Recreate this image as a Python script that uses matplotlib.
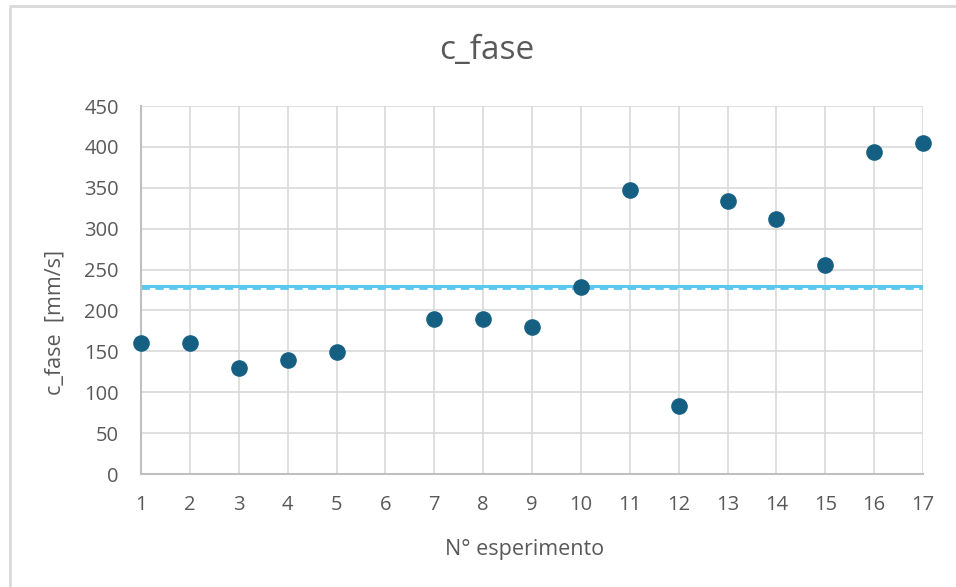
import numpy as np
import matplotlib.pyplot as plt
from matplotlib.lines import Line2D

# dati
esperimento = [1, 2, 3, 4, 5, 7, 8, 9, 10, 11, 12, 13, 14, 15, 16, 17]
c_fase = [160, 160, 130, 140, 149, 190, 190, 180, 229, 347, 83, 334, 312, 256, 394, 405]
x_ticks = list(range(1, 18))
y_ticks = list(range(0, 451, 50))
linea_media = 229.5
linea_tratteggiata = 227

GRIGIO_TESTO = '#595959'
COLORE_PUNTI = '#156082'
COLORE_LINEA = '#5BC8F0'

plt.rcParams['font.family'] = ['Open Sans', 'DejaVu Sans']

fig = plt.figure(figsize=(9.56, 5.87), dpi=100)
ax = fig.add_axes([0.1475, 0.1925, 0.818, 0.6269])

# bordo del riquadro (visibile solo a sinistra e in alto, lo screenshot e' tagliato)
bx, by = 9.5 / 956, 1 - 6 / 587
fig.lines.append(Line2D([bx, bx, 1], [0, by, by], transform=fig.transFigure,
                        color='#D9D9D9', linewidth=2))

ax.axhline(linea_media, color=COLORE_LINEA, linewidth=2.2, zorder=2)
ax.axhline(linea_tratteggiata, color=COLORE_LINEA, linewidth=2.0, linestyle=(0, (3, 2)), zorder=2)

ax.scatter(esperimento, c_fase, s=120, color=COLORE_PUNTI, zorder=3, clip_on=False)

ax.set_xlim(1, 17)
ax.set_ylim(0, 450)
ax.set_xticks(x_ticks)
ax.set_yticks(y_ticks)
ax.grid(True, color='#D9D9D9', linewidth=1.2)
ax.set_axisbelow(True)

for lato in ['top', 'right']:
    ax.spines[lato].set_visible(False)
for lato in ['left', 'bottom']:
    ax.spines[lato].set_color('#BFBFBF')
    ax.spines[lato].set_linewidth(1.5)

ax.tick_params(length=0, labelsize=14.5, colors=GRIGIO_TESTO)
ax.tick_params(axis='x', pad=15)
ax.tick_params(axis='y', pad=16)

# titolo ed etichette assi posizionati come nell'originale
fig.text(0.509, 1 - 50 / 587, 'c_fase', fontsize=24, color=GRIGIO_TESTO,
         ha='center', va='center')
fig.text(525 / 956, 1 - 549 / 587, 'N° esperimento', fontsize=15.5, color=GRIGIO_TESTO,
         ha='center', va='center')
fig.text(55 / 956, 1 - 322 / 587, 'c_fase  [mm/s]', fontsize=15.5, color=GRIGIO_TESTO,
         ha='center', va='center', rotation=90)

fig.savefig('out.png', dpi=100)
